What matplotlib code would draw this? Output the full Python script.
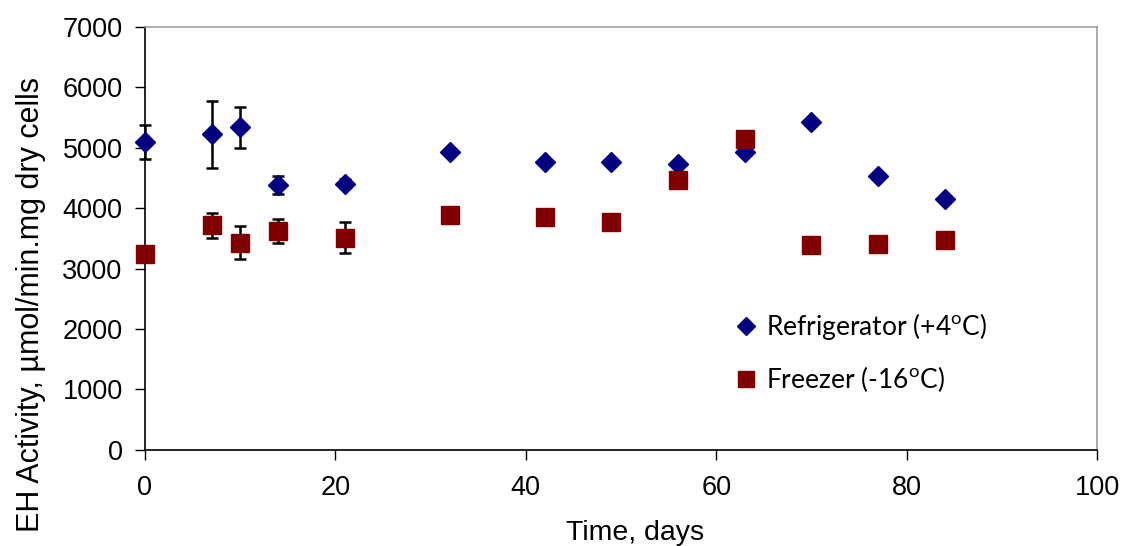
import matplotlib
matplotlib.use('Agg')
import matplotlib.pyplot as plt
import numpy as np

plt.rcParams.update({
    'font.family': ['Liberation Sans', 'DejaVu Sans'],
    'mathtext.fontset': 'custom',
    'mathtext.rm': 'Lato',
})

# Storage time (days)
days_fridge = [0, 7, 10, 14, 21, 32, 42, 49, 56, 63, 70, 77, 84]
days_freezer = [0, 7, 10, 14, 21, 32, 42, 49, 56, 63, 70, 77, 84]

# EH activity, umol/min.mg dry cells
fridge = [5095, 5220, 5340, 4378, 4406, 4930, 4755, 4765, 4726, 4920, 5418, 4532, 4146]
fridge_err = [275, 550, 340, 145, 70, 0, 0, 0, 0, 0, 0, 0, 0]
freezer = [3239, 3715, 3428, 3615, 3511, 3886, 3859, 3776, 4466, 5136, 3388, 3403, 3466]
freezer_err = [0, 205, 275, 200, 260, 0, 0, 0, 0, 0, 0, 0, 0]

fig = plt.figure(figsize=(11.23, 5.46), dpi=100)
ax = fig.add_axes([0.129, 0.176, 0.848, 0.775])

ax.errorbar(days_fridge, fridge, yerr=fridge_err, fmt='none', ecolor='black',
            elinewidth=1.8, capsize=4.5, capthick=1.8, zorder=2, clip_on=False)
ax.errorbar(days_freezer, freezer, yerr=freezer_err, fmt='none', ecolor='black',
            elinewidth=1.8, capsize=4.5, capthick=1.8, zorder=2, clip_on=False)

h1, = ax.plot(days_fridge, fridge, linestyle='none', marker='D', markersize=10,
              color='#000080', zorder=3, clip_on=False)
h2, = ax.plot(days_freezer, freezer, linestyle='none', marker='s', markersize=13,
              color='#800000', zorder=4, clip_on=False)

ax.set_xlim(0, 100)
ax.set_ylim(0, 7000)
ax.set_xticks(np.arange(0, 101, 20))
ax.set_yticks(np.arange(0, 7001, 1000))
ax.tick_params(direction='out', length=7, width=1, labelsize=19.5)
ax.tick_params(axis='x', pad=11)
ax.tick_params(axis='y', pad=9)

ax.spines['left'].set_color('black')
ax.spines['bottom'].set_color('black')
ax.spines['top'].set_color('#a0a0a0')
ax.spines['right'].set_color('#a0a0a0')
for s in ax.spines.values():
    s.set_linewidth(1.2)

ax.set_xlabel('Time, days', fontsize=20.5)
ax.xaxis.set_label_coords(0.515, -0.165)
ax.set_ylabel('EH Activity, \u00b5mol/min.mg dry cells', fontsize=22)
ax.yaxis.set_label_coords(-0.104, 0.343)

leg = ax.legend([h1, h2],
                [r'Refrigerator (+4$^{\mathrm{o}}$C)', r'Freezer (-16$^{\mathrm{o}}$C)'],
                loc='upper left', bbox_to_anchor=(0.59, 0.385), frameon=False,
                prop={'family': 'Lato', 'size': 19}, labelspacing=0.85,
                handletextpad=0.15, handlelength=1.2, markerscale=0.9)

plt.savefig('out.png', dpi=100)
